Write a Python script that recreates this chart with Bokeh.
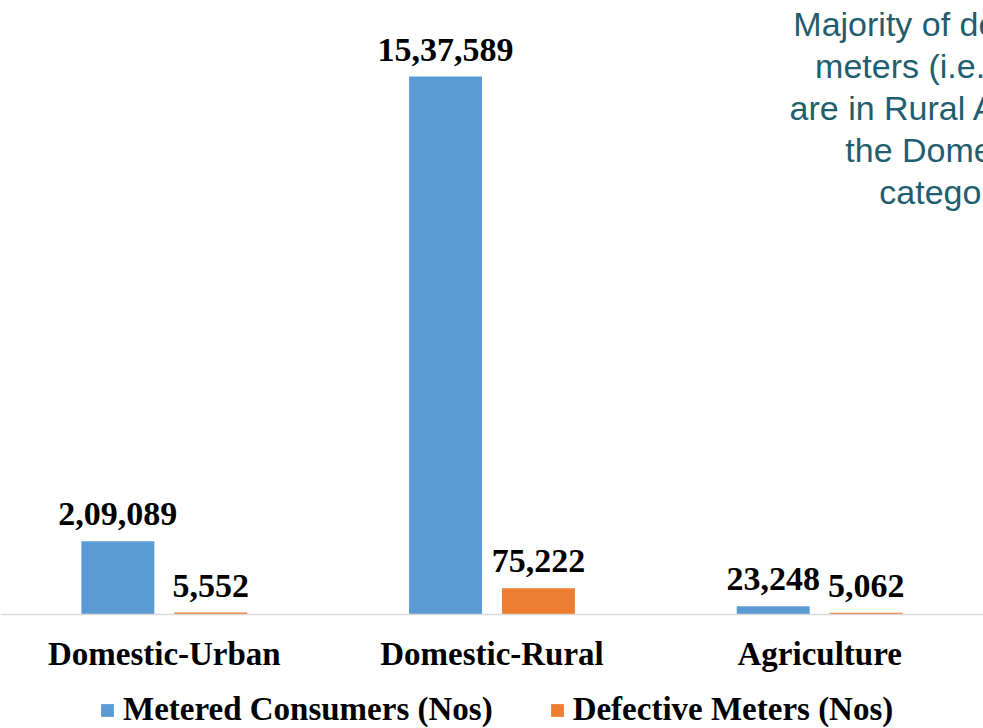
from bokeh.plotting import figure
from bokeh.models import FactorRange, Range1d, ColumnDataSource, LabelSet, Legend, LegendItem, Label
from bokeh.transform import dodge
from bokeh.embed import file_html
from bokeh.resources import INLINE

categories = ["Domestic-Urban", "Domestic-Rural", "Agriculture"]
series_names = ["Metered Consumers (Nos)", "Defective Meters (Nos)"]
metered = [209089, 1537589, 23248]
defective = [5552, 75222, 5062]
note = "Majority of defective\nmeters (i.e. 88%)\nare in Rural Areas in\nthe Domestic\ncategory"

BLUE = "#5B9BD5"
ORANGE = "#ED7D31"
SERIF = "Liberation Serif"

W_PX, H_PX = 983, 728
BASE_PX = 614          # baseline distance from top
TALL_PX = 538          # height of the tallest bar
k = TALL_PX / max(metered)
y_top = BASE_PX / k
y_bot = -(H_PX - BASE_PX) / k


def indian(n):
    s = str(n)
    if len(s) <= 3:
        return s
    head, tail = s[:-3], s[-3:]
    groups = []
    while len(head) > 2:
        groups.insert(0, head[-2:])
        head = head[:-2]
    if head:
        groups.insert(0, head)
    return ",".join(groups + [tail])


src = ColumnDataSource(dict(
    cat=categories,
    metered=metered,
    defective=defective,
    metered_lbl=[indian(v) for v in metered],
    defective_lbl=[indian(v) for v in defective],
))

p = figure(
    width=W_PX, height=H_PX,
    x_range=FactorRange(factors=categories, range_padding=0),
    y_range=Range1d(y_bot, y_top),
    output_backend="svg", toolbar_location=None,
    y_axis_location=None,
    min_border_left=0, min_border_right=0, min_border_top=0, min_border_bottom=0,
)
p.outline_line_color = None
p.grid.visible = False
p.background_fill_color = "white"
p.border_fill_color = "white"

W = 0.2226
OFF = 0.1418
r1 = p.vbar(x=dodge("cat", -OFF, range=p.x_range), top="metered", width=W, source=src,
            fill_color=BLUE, line_color=None)
r2 = p.vbar(x=dodge("cat", OFF, range=p.x_range), top="defective", width=W, source=src,
            fill_color=ORANGE, line_color=None)

for xo, fld in ((-OFF, "metered"), (OFF, "defective")):
    p.add_layout(LabelSet(
        x=dodge("cat", xo, range=p.x_range), y=fld, text=fld + "_lbl", source=src,
        text_align="center", text_baseline="alphabetic", y_offset=16,
        text_font=SERIF, text_font_style="bold", text_font_size="34px", text_color="black",
    ))

ax = p.xaxis[0]
ax.fixed_location = 0
ax.axis_line_color = "#D9D9D9"
ax.axis_line_width = 1.5
ax.major_tick_line_color = None
ax.minor_tick_line_color = None
ax.major_label_standoff = 15
ax.major_label_text_font = SERIF
ax.major_label_text_font_style = "bold"
ax.major_label_text_font_size = "33px"
ax.major_label_text_color = "black"

legend = Legend(
    items=[LegendItem(label=series_names[0], renderers=[r1]),
           LegendItem(label=series_names[1], renderers=[r2])],
    orientation="horizontal", location=(99, 0),
    label_text_font=SERIF, label_text_font_style="bold", label_text_font_size="33px",
    label_text_color="black",
    glyph_width=16, glyph_height=16, label_standoff=8, spacing=56,
    padding=0, margin=0, border_line_color=None, background_fill_alpha=0,
)
p.add_layout(legend, "center")

p.add_layout(Label(
    x=2.881, y=(BASE_PX - 4) / k, text=note, text_align="center", text_baseline="top",
    text_font="Liberation Sans", text_font_size="34px", text_color="#1F5E6E",
    text_line_height=1.107,
))

open("out.html", "w").write(file_html(p, INLINE))
